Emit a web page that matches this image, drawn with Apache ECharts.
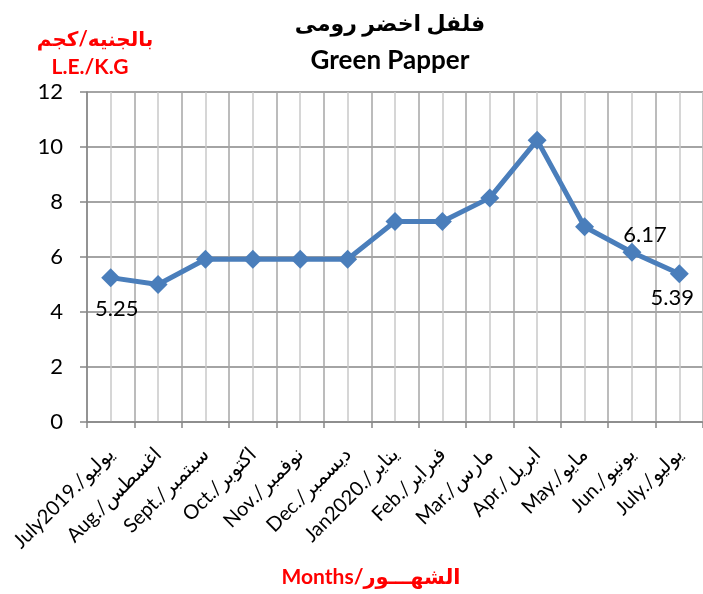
<!DOCTYPE html>
<html>
<head>
<meta charset="utf-8">
<script src="https://cdn.jsdelivr.net/npm/echarts@6/dist/echarts.min.js"></script>
<style>
html,body{margin:0;padding:0;background:#fff;}
#chart{width:703px;height:594px;}
</style>
</head>
<body>
<div id="chart"></div>
<script>
// ---- data ----
const categories = [
  'July2019./يوليو', 'Aug./اغسطس', 'Sept./سبتمبر', 'Oct./اكتوبر', 'Nov./نوفمبر',
  'Dec./ديسمبر', 'Jan2020./يناير', 'Feb./فبراير', 'Mar./مارس', 'Apr./ابريل',
  'May./مايو', 'Jun./يونيو', 'July./يوليو'
];
const prices = [5.25, 5.0, 5.92, 5.92, 5.92, 5.92, 7.29, 7.29, 8.15, 10.25, 7.1, 6.17, 5.39];
const yTicks = [0, 2, 4, 6, 8, 10, 12];
const titleArabic = 'فلفل اخضر رومى';
const titleEnglish = 'Green Papper';
const yNameArabic = 'بالجنيه/كجم';
const yNameEnglish = 'L.E./K.G';
const xName = 'Months/الشهـــور';
const labelledPoints = { 0: 'below', 11: 'above', 12: 'below' };

const FONT = 'Lato, "DejaVu Sans", sans-serif';
const BLUE = '#4a7ebb';

const labelStyles = {
  below0: { show: true, position: 'bottom', distance: 5, offset: [6, 6] },
  above11: { show: true, position: 'top', distance: 5, offset: [13, 8] },
  below12: { show: true, position: 'bottom', distance: 5, offset: [-7, -1] }
};

const seriesData = prices.map((v, i) => {
  const item = { value: v };
  if (labelledPoints[i] !== undefined) {
    const key = (labelledPoints[i] === 'below' ? 'below' : 'above') + i;
    item.label = labelStyles[key];
  }
  return item;
});

// half-category helper axis for minor vertical gridlines
const halfCats = Array.from({ length: categories.length * 2 }, (_, i) => String(i));

const chart = echarts.init(document.getElementById('chart'), null, { renderer: 'canvas' });
chart.setOption({
  backgroundColor: '#ffffff',
  animation: false,
  textStyle: { fontFamily: FONT },
  grid: { left: 87, right: -5, top: 92, bottom: 172, containLabel: false },
  graphic: [
    { type: 'text', x: 390, y: 24, style: { text: titleArabic, fontFamily: FONT, fontSize: 22, fontWeight: 'bold', fill: '#000', align: 'center', verticalAlign: 'middle' } },
    { type: 'text', x: 390, y: 61, style: { text: titleEnglish, fontFamily: FONT, fontSize: 26, fontWeight: 'bold', fill: '#000', align: 'center', verticalAlign: 'middle' } },
    { type: 'text', x: 95, y: 40, style: { text: yNameArabic, fontFamily: FONT, fontSize: 20, fontWeight: 'bold', fill: '#ff0000', align: 'center', verticalAlign: 'middle' } },
    { type: 'text', x: 90, y: 67, style: { text: yNameEnglish, fontFamily: FONT, fontSize: 21, fontWeight: 'bold', fill: '#ff0000', align: 'center', verticalAlign: 'middle' } },
    { type: 'text', x: 371, y: 577, style: { text: xName, fontFamily: FONT, fontSize: 21, fontWeight: 'bold', fill: '#ff0000', align: 'center', verticalAlign: 'middle' } }
  ],
  xAxis: [
    {
      type: 'category',
      data: categories,
      boundaryGap: true,
      position: 'bottom',
      axisLine: { show: true, lineStyle: { color: '#868686', width: 1.5 } },
      axisTick: { show: true, interval: 0, length: 6, inside: false, lineStyle: { color: '#868686', width: 1.5 } },
      splitLine: { show: true, interval: 0, lineStyle: { color: '#a6a6a6', width: 1.5 } },
      axisLabel: {
        interval: 0, rotate: 45, fontSize: 20, color: '#000', fontFamily: FONT,
        margin: 29, padding: [22, 0, 0, 0]
      }
    },
    {
      type: 'category',
      data: halfCats,
      boundaryGap: true,
      position: 'bottom',
      axisLine: { show: false },
      axisTick: { show: false },
      axisLabel: { show: false },
      splitLine: { show: true, interval: function (i) { return i % 2 === 1; }, lineStyle: { color: '#c8c8c8', width: 1.5 } }
    }
  ],
  yAxis: {
    type: 'value',
    min: yTicks[0],
    max: yTicks[yTicks.length - 1],
    interval: 2,
    axisLine: { show: true, lineStyle: { color: '#868686', width: 1.5 } },
    axisTick: { show: true, length: 7, inside: false, lineStyle: { color: '#868686', width: 1.5 } },
    splitLine: { show: true, lineStyle: { color: '#868686', width: 1.5 } },
    axisLabel: { fontSize: 22, color: '#000', margin: 24, fontFamily: FONT }
  },
  series: [{
    type: 'line',
    xAxisIndex: 0,
    data: seriesData,
    symbol: 'diamond',
    symbolSize: 19,
    lineStyle: { color: BLUE, width: 5 },
    itemStyle: { color: BLUE },
    label: { show: false, fontSize: 22, color: '#000', fontFamily: FONT },
    z: 5
  }]
});
</script>
</body>
</html>
